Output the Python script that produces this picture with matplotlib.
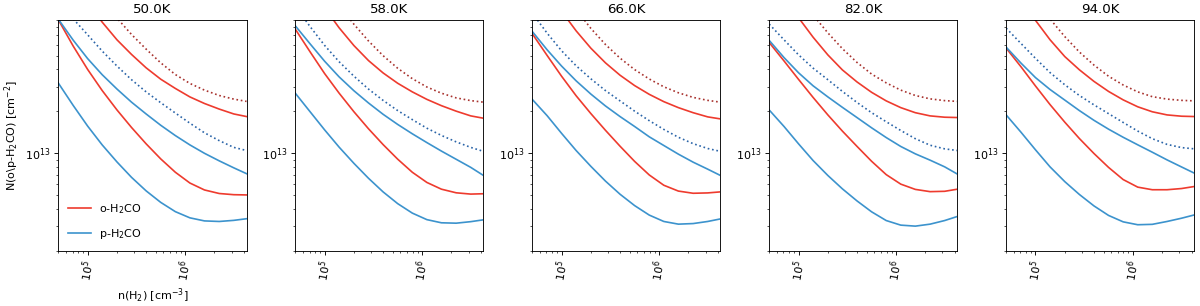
import numpy as np
import matplotlib
matplotlib.use("Agg")
import matplotlib.pyplot as plt

# Temperatures of the five panels
temperatures = [50.0, 58.0, 66.0, 82.0, 94.0]

# H2 density grid [cm^-3]
n_H2 = [5.0e4, 7.1e4, 1.0e5, 1.41e5, 2.0e5, 2.82e5, 3.98e5, 5.62e5,
        7.94e5, 1.12e6, 1.58e6, 2.24e6, 3.16e6, 4.27e6]

# Column densities in units of 1e13 cm^-2, one row per temperature
o_dotted = [
    [34.8, 24.3, 17.3, 12.6, 9.29, 7.09, 5.57, 4.44, 3.66, 3.16, 2.83, 2.59, 2.44, 2.35],
    [31.0, 21.9, 15.7, 11.4, 8.39, 6.37, 5.00, 4.06, 3.42, 2.98, 2.69, 2.49, 2.38, 2.32],
    [30.5, 21.2, 15.0, 10.7, 7.83, 6.01, 4.80, 3.97, 3.40, 2.99, 2.71, 2.51, 2.39, 2.32],
    [25.7, 18.5, 13.4, 9.77, 7.28, 5.61, 4.47, 3.69, 3.19, 2.83, 2.59, 2.45, 2.38, 2.35],
    [23.0, 16.6, 12.3, 9.16, 6.84, 5.31, 4.28, 3.56, 3.08, 2.75, 2.54, 2.44, 2.39, 2.37],
]
o_upper = [
    [23.3, 16.5, 11.9, 8.69, 6.49, 5.10, 4.09, 3.39, 2.91, 2.53, 2.27, 2.07, 1.91, 1.83],
    [23.0, 15.7, 11.0, 7.91, 5.90, 4.61, 3.76, 3.17, 2.75, 2.43, 2.19, 2.00, 1.85, 1.78],
    [21.1, 14.7, 10.4, 7.53, 5.65, 4.44, 3.62, 3.05, 2.64, 2.34, 2.12, 1.95, 1.82, 1.76],
    [19.0, 13.2, 9.35, 6.78, 5.06, 3.95, 3.24, 2.73, 2.37, 2.12, 1.95, 1.85, 1.81, 1.80],
    [17.0, 12.3, 8.95, 6.50, 4.92, 3.96, 3.27, 2.77, 2.41, 2.15, 1.98, 1.88, 1.84, 1.83],
]
o_lower = [
    [9.04, 5.86, 3.98, 2.81, 2.04, 1.528, 1.167, 0.910, 0.730, 0.611, 0.545, 0.514, 0.504, 0.502],
    [7.74, 5.32, 3.72, 2.69, 1.98, 1.496, 1.153, 0.906, 0.730, 0.617, 0.552, 0.520, 0.509, 0.512],
    [7.18, 5.02, 3.56, 2.58, 1.92, 1.459, 1.122, 0.873, 0.698, 0.589, 0.535, 0.516, 0.519, 0.528],
    [6.21, 4.58, 3.38, 2.51, 1.88, 1.439, 1.119, 0.875, 0.702, 0.600, 0.550, 0.530, 0.533, 0.552],
    [5.66, 4.16, 3.03, 2.23, 1.667, 1.274, 0.995, 0.791, 0.647, 0.571, 0.547, 0.547, 0.558, 0.577],
]
p_dotted = [
    [12.0, 9.18, 7.05, 5.39, 4.21, 3.36, 2.75, 2.30, 1.94, 1.64, 1.40, 1.23, 1.10, 1.045],
    [11.3, 8.07, 5.92, 4.52, 3.56, 2.88, 2.39, 2.02, 1.74, 1.51, 1.34, 1.205, 1.10, 1.03],
    [10.1, 7.25, 5.42, 4.23, 3.41, 2.81, 2.37, 2.00, 1.71, 1.48, 1.30, 1.17, 1.08, 1.03],
    [8.41, 6.49, 5.07, 4.07, 3.36, 2.77, 2.31, 1.95, 1.68, 1.454, 1.27, 1.14, 1.074, 1.045],
    [7.87, 6.11, 4.78, 3.78, 3.09, 2.59, 2.22, 1.92, 1.66, 1.44, 1.27, 1.156, 1.096, 1.074],
]
p_upper = [
    [9.12, 6.46, 4.76, 3.65, 2.88, 2.32, 1.91, 1.585, 1.337, 1.146, 0.998, 0.881, 0.785, 0.713],
    [8.18, 6.07, 4.56, 3.52, 2.80, 2.29, 1.90, 1.607, 1.377, 1.191, 1.035, 0.904, 0.791, 0.692],
    [7.45, 5.51, 4.21, 3.30, 2.65, 2.18, 1.83, 1.553, 1.31, 1.135, 0.984, 0.862, 0.768, 0.692],
    [6.43, 4.84, 3.77, 3.04, 2.53, 2.13, 1.80, 1.52, 1.294, 1.117, 0.989, 0.891, 0.798, 0.708],
    [5.75, 4.42, 3.48, 2.86, 2.40, 2.02, 1.72, 1.486, 1.30, 1.148, 1.016, 0.895, 0.796, 0.719],
]
p_lower = [
    [3.18, 2.20, 1.563, 1.146, 0.865, 0.671, 0.537, 0.444, 0.381, 0.344, 0.327, 0.324, 0.330, 0.339],
    [2.69, 1.98, 1.469, 1.104, 0.845, 0.661, 0.528, 0.435, 0.372, 0.334, 0.317, 0.315, 0.323, 0.333],
    [2.43, 1.858, 1.387, 1.045, 0.804, 0.631, 0.508, 0.421, 0.360, 0.324, 0.310, 0.313, 0.324, 0.338],
    [2.04, 1.553, 1.167, 0.886, 0.692, 0.555, 0.455, 0.380, 0.329, 0.305, 0.300, 0.310, 0.329, 0.352],
    [1.88, 1.413, 1.057, 0.798, 0.625, 0.506, 0.419, 0.358, 0.322, 0.307, 0.309, 0.324, 0.342, 0.361],
]

RED = "#ee3b2e"
BLUE = "#3c93cd"
RED_DOT = "#a8322e"
BLUE_DOT = "#2a64a8"

fig, axes = plt.subplots(1, 5, figsize=(15, 3.825), dpi=80)
fig.subplots_adjust(left=0.0486, right=0.9953, top=0.9346, bottom=0.1807, wspace=0.259)

x = np.array(n_H2)
for i, ax in enumerate(axes):
    ax.plot(x, np.array(o_dotted[i]) * 1e13, ls=":", color=RED_DOT, lw=1.5)
    ax.plot(x, np.array(p_dotted[i]) * 1e13, ls=":", color=BLUE_DOT, lw=1.5)
    ax.plot(x, np.array(o_upper[i]) * 1e13, color=RED, lw=1.5)
    ax.plot(x, np.array(o_lower[i]) * 1e13, color=RED, lw=1.5, label="o-H$_2$CO")
    ax.plot(x, np.array(p_upper[i]) * 1e13, color=BLUE, lw=1.5)
    ax.plot(x, np.array(p_lower[i]) * 1e13, color=BLUE, lw=1.5, label="p-H$_2$CO")
    ax.set_xscale("log")
    ax.set_yscale("log")
    ax.set_xlim(x[0], x[-1])
    ax.set_ylim(2e12, 9e13)
    ax.set_title(f"{temperatures[i]:.1f}K")
    ax.tick_params(axis="x", labelrotation=80)
    if i == 0:
        ax.set_xlabel("n(H$_2$) [cm$^{-3}$]")
        ax.set_ylabel("N(o\\p-H$_2$CO) [cm$^{-2}$]")
        ax.legend(loc="lower left", frameon=False, labelspacing=1.0)

fig.savefig("out.png", dpi=80)
